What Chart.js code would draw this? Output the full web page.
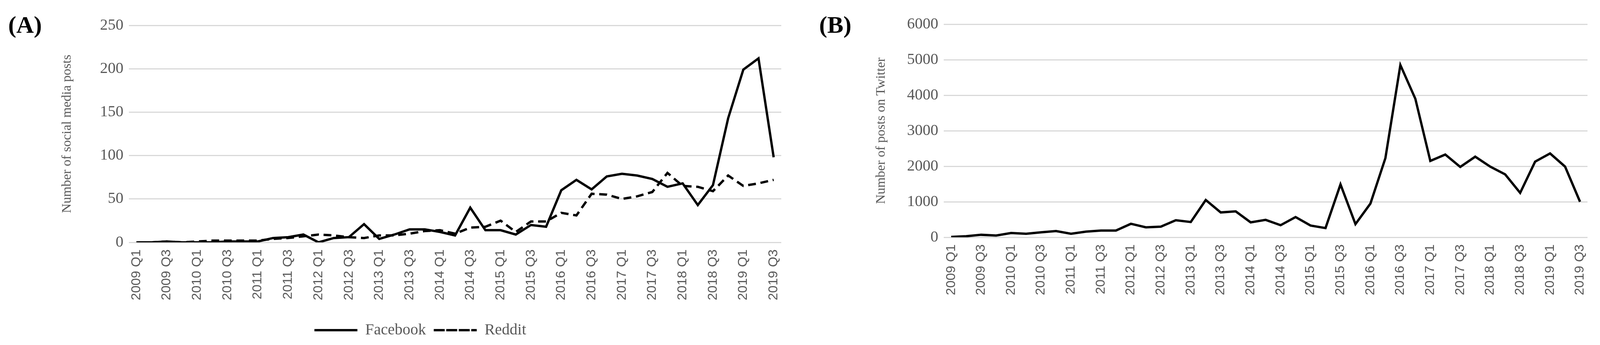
<!DOCTYPE html>
<html><head><meta charset="utf-8">
<script src="https://cdn.jsdelivr.net/npm/chart.js@4"></script>
<style>
html,body{margin:0;padding:0;background:#fff;overflow:hidden}
.p{position:absolute;top:0;height:884px}
.lab{position:absolute;font-family:"Liberation Serif","DejaVu Serif",serif;font-weight:bold;font-size:62px;color:#000}
</style></head><body>
<div class="p" id="pa"><canvas id="a"></canvas></div>
<div class="p" id="pb"><canvas id="b"></canvas></div>
<div class="lab" id="la" style="top:28px">(A)</div>
<div class="lab" id="lb" style="top:28px">(B)</div>
<script>
const quarters=[];
for(let y=2009;y<=2019;y++){for(let q=1;q<=4;q++){if(y===2019&&q>3)break;quarters.push(y+' Q'+q);}}
const facebook=[0,0,1,0,0,0,1,1,1,5,6,9,0,5,6,21,4,9,15,15,12,8,40,14,14,9,20,18,60,72,61,76,79,77,73,64,68,43,66,143,199,212,98];
const reddit=[0,0,1,0,1,2,2,2,2,4,5,7,9,8,6,5,8,8,10,13,14,10,17,18,25,12,24,24,34,31,56,55,50,53,58,80,65,64,59,77,65,68,72];
const twitter=[10,30,70,50,120,100,140,175,100,160,190,190,380,280,300,480,430,1050,700,730,420,490,340,570,330,260,1490,370,950,2230,4850,3900,2150,2330,1980,2270,1990,1770,1250,2130,2360,1990,1000];
const yTicksA=[0,50,100,150,200,250];
const yTicksB=[0,1000,2000,3000,4000,5000,6000];
const k=Math.min(1,window.innerWidth/4304);
const X=v=>Math.round(v*k);
const pa=document.getElementById('pa'),pb=document.getElementById('pb');
pa.style.left='0px';pa.style.width=X(2150)+'px';
pb.style.left=X(2150)+'px';pb.style.width=X(2154)+'px';
document.getElementById('la').style.left=X(22)+'px';
document.getElementById('lb').style.left=X(2203)+'px';
const serif='"Liberation Serif","DejaVu Serif",serif';
const sans='"Liberation Sans","DejaVu Sans",sans-serif';
function xScale(h){return {offset:true,grid:{display:false},border:{display:false},
 ticks:{autoSkip:false,maxRotation:90,minRotation:90,color:'#595959',font:{family:sans,size:34},padding:10,
 callback:function(v,i){return i%2===0?this.getLabelForValue(v):'';}},afterFit:s=>{s.height=h;}};}
function yScale(ticks,title,w){return {min:ticks[0],max:ticks[ticks.length-1],grid:{color:'#d9d9d9',lineWidth:3,drawTicks:false},border:{display:false},
 afterBuildTicks:s=>{s.ticks=ticks.map(v=>({value:v}));},
 ticks:{color:'#595959',font:{family:serif,size:40},padding:14,callback:v=>String(v)},
 title:{display:true,text:title,color:'#595959',font:{family:serif,size:34},padding:0},afterFit:s=>{s.width=w;}};}
Chart.defaults.animation=false;
new Chart(document.getElementById('a'),{type:'line',
 data:{labels:quarters,datasets:[
  {label:'Facebook',data:facebook,borderColor:'#000',backgroundColor:'transparent',borderWidth:6,pointRadius:0,tension:0},
  {label:'Reddit',data:reddit,borderColor:'#000',backgroundColor:'transparent',borderWidth:6,borderDash:[20,12],pointRadius:0,tension:0}]},
 options:{responsive:true,maintainAspectRatio:false,layout:{padding:{left:X(160),right:X(48),top:65,bottom:8}},
  plugins:{legend:{position:'bottom',labels:{color:'#595959',font:{family:serif,size:40},boxWidth:110,boxHeight:0,padding:20}},tooltip:{enabled:false}},
  scales:{x:xScale(185),y:yScale(yTicksA,'Number of social media posts',X(187))}}});
new Chart(document.getElementById('b'),{type:'line',
 data:{labels:quarters,datasets:[
  {label:'Twitter',data:twitter,borderColor:'#000',backgroundColor:'transparent',borderWidth:6,pointRadius:0,tension:0}]},
 options:{responsive:true,maintainAspectRatio:false,layout:{padding:{left:X(200),right:X(28),top:62,bottom:90}},
  plugins:{legend:{display:false},tooltip:{enabled:false}},
  scales:{x:xScale(186),y:yScale(yTicksB,'Number of posts on Twitter',X(189))}}});
</script></body></html>
